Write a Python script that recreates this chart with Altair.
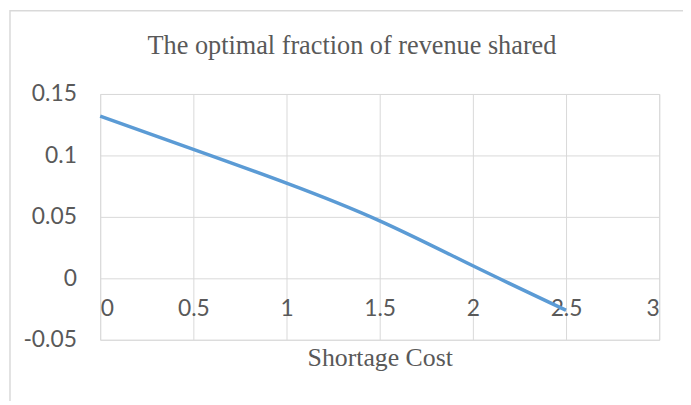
import altair as alt
import pandas as pd

# Data
shortage_cost = [0.0, 0.5, 1.0, 1.5, 2.0, 2.5]
fraction_shared = [0.132, 0.105, 0.0775, 0.0468, 0.0102, -0.026]

x_ticks = [0, 0.5, 1, 1.5, 2, 2.5, 3]
y_ticks = [-0.05, 0, 0.05, 0.1, 0.15]

title_text = "The optimal fraction of revenue shared"
x_title = "Shortage Cost"

df = pd.DataFrame({"x": shortage_cost, "y": fraction_shared})
one_df = pd.DataFrame({"label": [title_text]})

W, H = 564, 248
GRID = "#d9d9d9"
TXT = "#595959"

x_enc = alt.X(
    "x:Q",
    scale=alt.Scale(domain=[0, 3], nice=False, zero=False),
    axis=alt.Axis(
        values=x_ticks,
        labelExpr="'' + datum.value",
        title=x_title,
        titleFont="Liberation Serif",
        titleFontSize=26,
        titleFontWeight="normal",
        titleColor=TXT,
        titleX=W / 2,
        titleY=88,
        titleBaseline="alphabetic",
        titleAlign="center",
        offset=-62,
        domain=False,
        ticks=False,
        tickSize=0,
        labelPadding=19,
        labelFont="Lato",
        labelFontSize=23,
        labelColor=TXT,
        grid=True,
        gridColor=GRID,
        gridWidth=1,
    ),
)
y_enc = alt.Y(
    "y:Q",
    scale=alt.Scale(domain=[-0.05, 0.15], nice=False, zero=False),
    axis=alt.Axis(
        values=y_ticks,
        labelExpr="'' + datum.value",
        title=None,
        domain=False,
        ticks=False,
        tickSize=0,
        labelPadding=24,
        labelFont="Lato",
        labelFontSize=23,
        labelColor=TXT,
        grid=True,
        gridColor=GRID,
        gridWidth=1,
    ),
)

line = alt.Chart(df).mark_line(
    color="#5b9bd5", strokeWidth=3.5, interpolate="natural"
).encode(x=x_enc, y=y_enc)

frame = alt.Chart(one_df).mark_rect(
    fill=None, stroke=GRID, strokeWidth=1.5
).encode(
    x=alt.value(-91), x2=alt.value(720),
    y=alt.value(-84), y2=alt.value(420),
)

title = alt.Chart(one_df).mark_text(
    font="Liberation Serif", fontSize=26.5, color=TXT,
    align="center", baseline="alphabetic",
).encode(
    text="label:N",
    x=alt.value(W / 2 - 28),
    y=alt.value(-40),
)

chart = alt.layer(frame, line, title).properties(
    width=W,
    height=H,
    autosize=alt.AutoSizeParams(type="none"),
    padding={"left": 93, "top": 85, "right": 24, "bottom": 60},
).configure_view(stroke=None).configure(background="white")

chart.save("out.html", embed_options={"renderer": "svg", "actions": False})
